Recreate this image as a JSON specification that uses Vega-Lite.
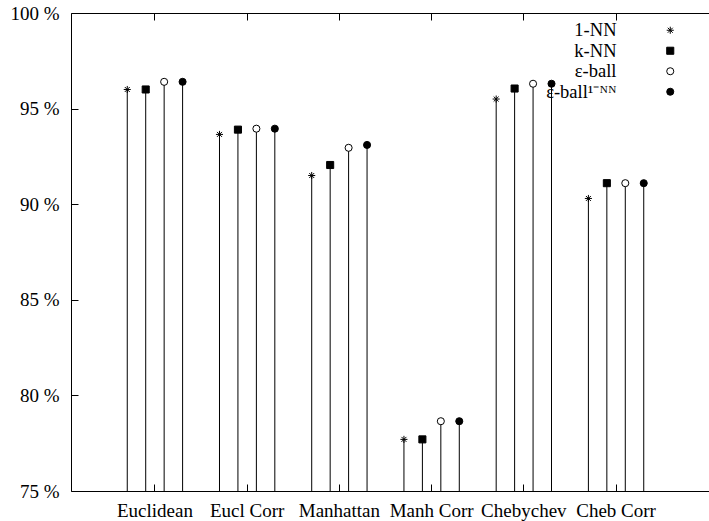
{
  "$schema": "https://vega.github.io/schema/vega-lite/v6.json",
  "width": 638,
  "height": 478,
  "autosize": {"type": "none"},
  "padding": {"left": 71, "top": 13, "right": 0, "bottom": 30},
  "background": "white",
  "config": {
    "view": {"stroke": "black", "strokeWidth": 1},
    "font": "Liberation Serif",
    "axis": {"labelFont": "Liberation Serif", "labelFontSize": 19, "labelColor": "black", "tickColor": "black", "tickWidth": 1, "domain": false, "grid": false, "title": null, "zindex": 1},
    "legend": {
      "title": null, "orient": "none", "legendX": 590, "legendY": 8,
      "labelFont": "Liberation Serif", "labelFontSize": 18.5, "labelColor": "black",
      "labelAlign": "right", "labelOffset": -63, "rowPadding": 1.5,
      "symbolStrokeWidth": 1, "symbolSize": 50, "padding": 0
    }
  },
  "data": {
    "values": [
      {"metric": "Euclidean", "method": "1-NN", "value": 96.0},
      {"metric": "Euclidean", "method": "k-NN", "value": 96.0},
      {"metric": "Euclidean", "method": "ε-ball", "value": 96.4},
      {"metric": "Euclidean", "method": "ε-ball¹⁻ᴺᴺ", "value": 96.4},
      {"metric": "Eucl Corr", "method": "1-NN", "value": 93.65},
      {"metric": "Eucl Corr", "method": "k-NN", "value": 93.9},
      {"metric": "Eucl Corr", "method": "ε-ball", "value": 93.95},
      {"metric": "Eucl Corr", "method": "ε-ball¹⁻ᴺᴺ", "value": 93.95},
      {"metric": "Manhattan", "method": "1-NN", "value": 91.5},
      {"metric": "Manhattan", "method": "k-NN", "value": 92.05},
      {"metric": "Manhattan", "method": "ε-ball", "value": 92.95},
      {"metric": "Manhattan", "method": "ε-ball¹⁻ᴺᴺ", "value": 93.1},
      {"metric": "Manh Corr", "method": "1-NN", "value": 77.7},
      {"metric": "Manh Corr", "method": "k-NN", "value": 77.7},
      {"metric": "Manh Corr", "method": "ε-ball", "value": 78.65},
      {"metric": "Manh Corr", "method": "ε-ball¹⁻ᴺᴺ", "value": 78.65},
      {"metric": "Chebychev", "method": "1-NN", "value": 95.5},
      {"metric": "Chebychev", "method": "k-NN", "value": 96.05},
      {"metric": "Chebychev", "method": "ε-ball", "value": 96.3},
      {"metric": "Chebychev", "method": "ε-ball¹⁻ᴺᴺ", "value": 96.3},
      {"metric": "Cheb Corr", "method": "1-NN", "value": 90.3},
      {"metric": "Cheb Corr", "method": "k-NN", "value": 91.1},
      {"metric": "Cheb Corr", "method": "ε-ball", "value": 91.1},
      {"metric": "Cheb Corr", "method": "ε-ball¹⁻ᴺᴺ", "value": 91.1}
    ]
  },
  "encoding": {
    "x": {
      "field": "metric", "type": "nominal",
      "scale": {"type": "band", "domain": ["Euclidean", "Eucl Corr", "Manhattan", "Manh Corr", "Chebychev", "Cheb Corr"], "range": [0, 629], "paddingInner": 0, "paddingOuter": 0.41}
    },
    "xOffset": {
      "field": "method", "type": "nominal",
      "scale": {"type": "point", "domain": ["1-NN", "k-NN", "ε-ball", "ε-ball¹⁻ᴺᴺ"], "padding": 1}
    },
    "y": {
      "field": "value", "type": "quantitative",
      "scale": {"domain": [75, 100], "nice": false, "zero": false},
      "axis": {"values": [75, 80, 85, 90, 95, 100], "labelExpr": "datum.value + ' %'", "tickSize": 7, "offset": -7, "labelPadding": 12, "orient": "left"}
    }
  },
  "layer": [
    {
      "mark": {"type": "rule", "color": "black", "strokeWidth": 1},
      "encoding": {
        "y2": {"datum": 75},
        "x": {
          "field": "metric", "type": "nominal",
          "axis": {"orient": "bottom", "tickSize": 7, "offset": -7, "labelPadding": 10, "labelAngle": 0}
        }
      }
    },
    {
      "mark": {"type": "point", "filled": true, "strokeWidth": 1, "size": 50, "opacity": 1},
      "encoding": {
        "x": {
          "field": "metric", "type": "nominal",
          "axis": {"orient": "top", "tickSize": 7, "offset": -7, "labels": false}
        },
        "shape": {
          "field": "method", "type": "nominal",
          "scale": {"domain": ["1-NN", "k-NN", "ε-ball", "ε-ball¹⁻ᴺᴺ"], "range": ["M-1,0L1,0M0,-1L0,1M-0.7,-0.7L0.7,0.7M-0.7,0.7L0.7,-0.7", "square", "circle", "circle"]}
        },
        "fill": {
          "field": "method", "type": "nominal",
          "scale": {"domain": ["1-NN", "k-NN", "ε-ball", "ε-ball¹⁻ᴺᴺ"], "range": ["black", "black", "white", "black"]}
        },
        "stroke": {
          "field": "method", "type": "nominal",
          "scale": {"domain": ["1-NN", "k-NN", "ε-ball", "ε-ball¹⁻ᴺᴺ"], "range": ["black", "black", "black", "black"]}
        }
      }
    }
  ],
  "resolve": {"axis": {"x": "independent"}}
}
